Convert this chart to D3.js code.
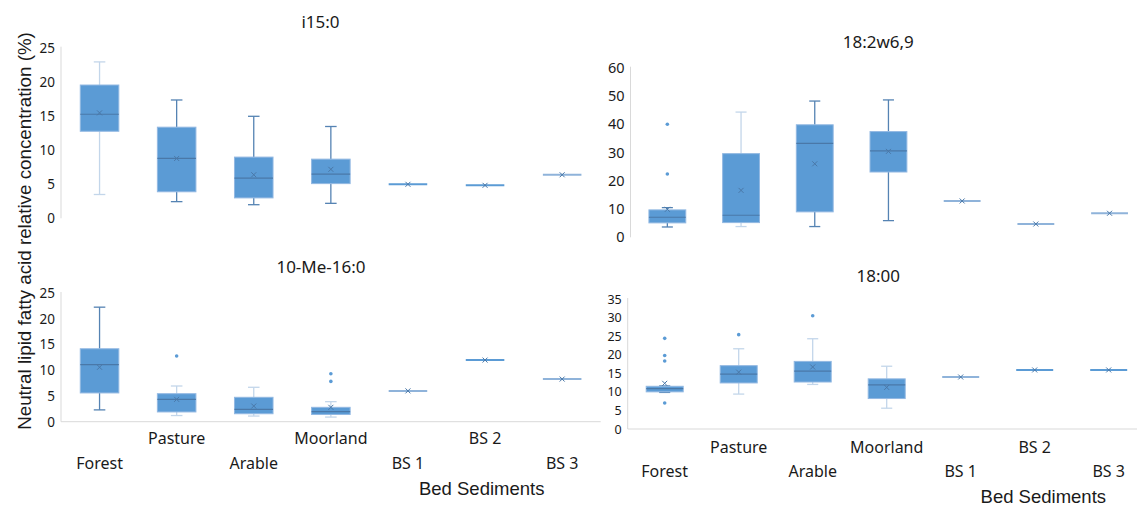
<!DOCTYPE html>
<html>
<head>
<meta charset="utf-8">
<script src="https://cdn.jsdelivr.net/npm/d3@7"></script>
<style>
  html, body { margin: 0; padding: 0; background: #fff; }
  svg { display: block; }
  text { font-family: "Noto Sans", "Open Sans", sans-serif; fill: #1a1a1a; }
  .axis-title { font-family: "Liberation Sans", Arial, sans-serif; }
</style>
</head>
<body>
<svg id="chart" width="1137" height="506"></svg>
<script>
// Sampling sites shared by every panel
const categories = ["Forest", "Pasture", "Arable", "Moorland", "BS 1", "BS 2", "BS 3"];

// Box summaries: [lower whisker, Q1, median, Q3, upper whisker] per site
const i15Stats = [
  [3.5, 12.8, 15.3, 19.6, 23.0],
  [2.45, 3.9, 8.8, 13.4, 17.4],
  [2.0, 3.0, 5.9, 9.0, 15.0],
  [2.2, 5.1, 6.5, 8.7, 13.5],
  [5.0, 5.0, 5.0, 5.0, 5.0],
  [4.85, 4.85, 4.85, 4.85, 4.85],
  [6.4, 6.4, 6.4, 6.4, 6.4]
];
const i15Means = [15.5, 8.8, 6.4, 7.2, 5.0, 4.85, 6.4];
const i15Outliers = [[], [], [], [], [], [], []];

const me16Stats = [
  [2.3, 5.6, 11.1, 14.2, 22.3],
  [1.2, 1.9, 4.35, 5.45, 6.95],
  [1.1, 1.55, 2.4, 4.75, 6.7],
  [0.9, 1.4, 1.95, 2.8, 3.9],
  [6.0, 6.0, 6.0, 6.0, 6.0],
  [12.0, 12.0, 12.0, 12.0, 12.0],
  [8.3, 8.3, 8.3, 8.3, 8.3]
];
const me16Means = [10.6, 4.35, 3.05, 2.8, 6.0, 12.0, 8.3];
const me16Outliers = [[], [12.8], [], [9.35, 7.85], [], [], []];

const w69Stats = [
  [3.65, 5.1, 7.1, 9.7, 10.5],
  [3.8, 5.2, 7.8, 29.6, 44.3],
  [3.8, 9.0, 33.2, 39.8, 48.2],
  [5.9, 23.1, 30.6, 37.4, 48.6],
  [12.85, 12.85, 12.85, 12.85, 12.85],
  [4.7, 4.7, 4.7, 4.7, 4.7],
  [8.5, 8.5, 8.5, 8.5, 8.5]
];
const w69Means = [9.9, 16.6, 26.0, 30.4, 12.85, 4.7, 8.5];
const w69Outliers = [[40.0, 22.4], [], [], [], [], [], []];

const c18Stats = [
  [9.85, 10.0, 10.85, 11.5, 11.6],
  [9.4, 12.4, 14.8, 17.05, 21.6],
  [12.0, 12.65, 15.6, 18.2, 24.3],
  [5.6, 8.2, 11.9, 13.5, 16.9],
  [14.0, 14.0, 14.0, 14.0, 14.0],
  [15.9, 15.9, 15.9, 15.9, 15.9],
  [15.9, 15.9, 15.9, 15.9, 15.9]
];
const c18Means = [12.3, 15.3, 16.7, 11.2, 14.0, 15.9, 15.9];
const c18Outliers = [[24.4, 19.8, 18.3, 7.0], [25.4], [30.5], [], [], [], []];

// Value-axis tick labels per panel
const i15Ticks = [0, 5, 10, 15, 20, 25];
const me16Ticks = [0, 5, 10, 15, 20, 25];
const w69Ticks = [0, 10, 20, 30, 40, 50, 60];
const c18Ticks = [0, 5, 10, 15, 20, 25, 30, 35];

// Panel titles
const panelTitles = ["i15:0", "10-Me-16:0", "18:2w6,9", "18:00"];

const COLORS = {
  fill: "#5b9bd5",
  edge: "#92b8e2",
  median: "#4a78a8",
  whisker: "#5583b3",
  whiskerPale: "#c3d6ea",
  axis: "#d9d9d9",
  mean: "#4a78a8"
};

const svg = d3.select("#chart");

// Layout of the four panels (pixel geometry)
const panels = [
  { title: panelTitles[0], stats: i15Stats, means: i15Means, outliers: i15Outliers, ticks: i15Ticks,
    x0: 61, x1: 600.7, y0: 218.3, y1: 48.3, axisTop: 46.7, xAxis: false,
    titleX: 320.5, titleY: 28, tickSize: 13.5, pale: [0, 6] },
  { title: panelTitles[1], stats: me16Stats, means: me16Means, outliers: me16Outliers, ticks: me16Ticks,
    x0: 61, x1: 600.7, y0: 421.7, y1: 293.3, axisTop: 292, xAxis: true,
    titleX: 321, titleY: 273.3, tickSize: 13.5, pale: [1, 2, 3, 4, 6],
    labelRows: [444, 469.3], sedX: 481.7, sedY: 495 },
  { title: panelTitles[2], stats: w69Stats, means: w69Means, outliers: w69Outliers, ticks: w69Ticks,
    x0: 630.5, x1: 630.5 + 7 * 73.7, y0: 237.3, y1: 67.7, axisTop: 66.7, xAxis: false,
    titleX: 878.3, titleY: 48.3, tickSize: 14.5, pale: [1, 4, 5, 6] },
  { title: panelTitles[3], stats: c18Stats, means: c18Means, outliers: c18Outliers, ticks: c18Ticks,
    x0: 627.7, x1: 627.7 + 7 * 74, y0: 429, y1: 299, axisTop: 298, xAxis: true,
    titleX: 878.3, titleY: 281.7, tickSize: 12.5, pale: [1, 2, 3, 4],
    labelRows: [452.7, 476.7], sedX: 1043.3, sedY: 502.5 }
];

panels.forEach(p => {
  const g = svg.append("g");
  const x = d3.scaleBand().domain(categories).range([p.x0, p.x1])
    .paddingInner(0.5).paddingOuter(0.25);
  const y = d3.scaleLinear().domain([0, d3.max(p.ticks)]).range([p.y0, p.y1]);

  // value axis: gray rule plus labels, no tick marks
  const yAxis = d3.axisLeft(y).tickValues(p.ticks).tickSize(0).tickPadding(6);
  const ya = g.append("g").attr("transform", `translate(${p.x0},0)`).call(yAxis);
  ya.select(".domain").remove();
  ya.selectAll("text").style("font-size", p.tickSize + "px")
    .style("font-family", "'Noto Sans', sans-serif").attr("fill", "#1a1a1a");
  g.append("line").attr("x1", p.x0).attr("x2", p.x0)
    .attr("y1", p.axisTop).attr("y2", p.y0)
    .attr("stroke", COLORS.axis).attr("stroke-width", 1);

  if (p.xAxis) {
    g.append("line").attr("x1", p.x0).attr("x2", p.x1)
      .attr("y1", p.y0).attr("y2", p.y0)
      .attr("stroke", COLORS.axis).attr("stroke-width", 1);
    // staggered site labels
    categories.forEach((c, i) => {
      g.append("text")
        .attr("x", x(c) + x.bandwidth() / 2)
        .attr("y", p.labelRows[i % 2 === 0 ? 1 : 0])
        .attr("text-anchor", "middle")
        .style("font-size", "16px")
        .text(c);
    });
    g.append("text").attr("class", "axis-title")
      .attr("x", p.sedX).attr("y", p.sedY)
      .attr("text-anchor", "middle")
      .style("font-size", "18.5px")
      .text("Bed Sediments");
  }

  g.append("text").attr("x", p.titleX).attr("y", p.titleY)
    .attr("text-anchor", "middle").style("font-size", "17px").text(p.title);

  const bw = x.bandwidth();
  const capW = bw * 0.3;
  categories.forEach((c, i) => {
    const [lo, q1, med, q3, hi] = p.stats[i];
    const cx = x(c) + bw / 2;
    const wc = p.pale.includes(i) ? COLORS.whiskerPale : COLORS.whisker;
    const bg = g.append("g");
    if (hi - lo > 0) {
      // whiskers with caps
      bg.append("line").attr("x1", cx).attr("x2", cx).attr("y1", y(q3)).attr("y2", y(hi))
        .attr("stroke", wc).attr("stroke-width", 1.3);
      bg.append("line").attr("x1", cx).attr("x2", cx).attr("y1", y(lo)).attr("y2", y(q1))
        .attr("stroke", wc).attr("stroke-width", 1.3);
      [lo, hi].forEach(v => {
        bg.append("line").attr("x1", cx - capW / 2).attr("x2", cx + capW / 2)
          .attr("y1", y(v)).attr("y2", y(v)).attr("stroke", wc).attr("stroke-width", 1.3);
      });
      // box
      bg.append("rect").attr("x", x(c)).attr("width", bw)
        .attr("y", y(q3)).attr("height", Math.max(1, y(q1) - y(q3)))
        .attr("fill", COLORS.fill).attr("stroke", COLORS.edge).attr("stroke-width", 1);
      bg.append("line").attr("x1", x(c)).attr("x2", x(c) + bw)
        .attr("y1", y(med)).attr("y2", y(med))
        .attr("stroke", COLORS.median).attr("stroke-width", 1.2);
    } else {
      // single sample: flat line across the box width
      bg.append("line").attr("x1", x(c)).attr("x2", x(c) + bw)
        .attr("y1", y(med)).attr("y2", y(med))
        .attr("stroke", p.pale.includes(i) ? "#8fb3da" : COLORS.fill).attr("stroke-width", 2);
    }
    // mean marker
    const my = y(p.means[i]), s = 2.5;
    bg.append("path")
      .attr("d", `M${cx - s},${my - s}L${cx + s},${my + s}M${cx - s},${my + s}L${cx + s},${my - s}`)
      .attr("stroke", COLORS.mean).attr("stroke-width", 1).attr("fill", "none");
    // outliers
    p.outliers[i].forEach(v => {
      bg.append("circle").attr("cx", cx).attr("cy", y(v)).attr("r", 1.8)
        .attr("fill", COLORS.fill);
    });
  });
});

// shared value-axis title
svg.append("text").attr("class", "axis-title")
  .attr("transform", "translate(31,231) rotate(-90)")
  .attr("text-anchor", "middle")
  .style("font-size", "18.8px")
  .text("Neutral lipid fatty acid relative concentration (%)");
</script>
</body>
</html>
